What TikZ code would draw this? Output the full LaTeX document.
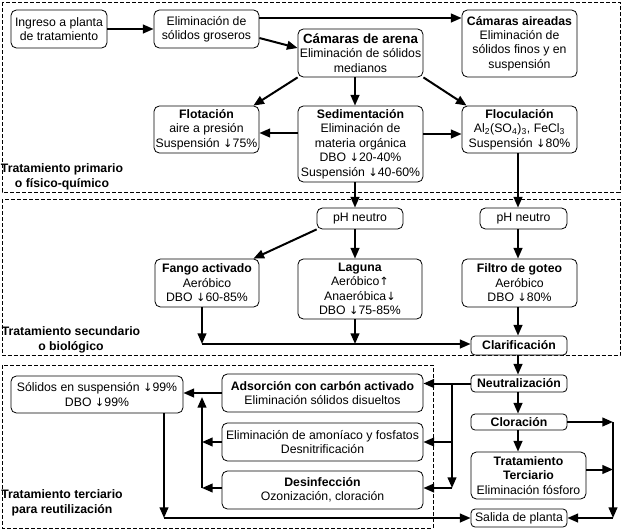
\documentclass[tikz,border=0pt]{standalone}
\usepackage{fontspec}
\setmainfont{Liberation Sans}
\newfontfamily\arrowfont{DejaVu Sans}
\newcommand{\dnar}{{\arrowfont\fontsize{8.5pt}{10pt}\selectfont ↓}}
\newcommand{\upar}{{\arrowfont\fontsize{8.5pt}{10pt}\selectfont ↑}}
\usetikzlibrary{arrows.meta}
\begin{document}
\begin{tikzpicture}[x=0.75pt,y=-0.75pt,
  every node/.style={font=\fontsize{9.2pt}{10.8pt}\selectfont},
  box/.style={draw, line width=0.6pt, rounded corners=4pt, fill=white, align=center, inner sep=1pt},
  region/.style={draw, line width=0.6pt, dash pattern=on 3pt off 1.5pt},
  arr/.style={line width=1.5pt, -{Triangle[length=8pt,width=6.5pt]}},
  lbl/.style={font=\fontsize{9.2pt}{10.8pt}\selectfont\bfseries, align=center, inner sep=0pt},
]
\useasboundingbox (0,0) rectangle (621,529);
\fill[white] (0,0) rectangle (621,529);
% regions
\draw[region] (2,2) rectangle (620,192);
\draw[region] (2,199) rectangle (620,355.5);
\draw[region] (2,365) rectangle (433,528);
\node[lbl] (lblA) at (62,177) {Tratamiento primario\\o físico-químico};
\node[lbl] (lblB) at (71,340) {Tratamiento secundario\\o biológico};
\node[lbl] (lblC) at (62,503) {Tratamiento terciario\\para reutilización};
% primary
\node[box, minimum width=72pt, minimum height=28.5pt] (ingreso) at (59,29) {Ingreso a planta\\de tratamiento};
\node[box, minimum width=78.75pt, minimum height=28.5pt] (groseros) at (206.5,29) {Eliminación de\\sólidos groseros};
\node[box, minimum width=93.75pt, minimum height=36pt] (arena) at (360.5,53) {{\fontsize{10pt}{12pt}\selectfont\bfseries Cámaras de arena}\\Eliminación de sólidos\\medianos};
\node[box, minimum width=86.25pt, minimum height=50.25pt] (aireadas) at (519.5,43.5) {\textbf{Cámaras aireadas}\\Eliminación de\\sólidos finos y en\\suspensión};
\node[box, minimum width=78.75pt, minimum height=35.25pt] (flot) at (206.5,129.5) {\textbf{Flotación}\\aire a presión\\Suspensión \dnar75\%};
\node[box, minimum width=93.75pt, minimum height=57pt] (sedim) at (360.5,144) {\textbf{Sedimentación}\\Eliminación de\\materia orgánica\\DBO \dnar20-40\%\\Suspensión \dnar40-60\%};
\node[box, minimum width=86.25pt, minimum height=35.25pt] (floc) at (519.5,129.5) {\textbf{Floculación}\\Al\textsubscript{2}(SO\textsubscript{4})\textsubscript{3}, FeCl\textsubscript{3}\\Suspensión \dnar80\%};
% secondary
\node[box, minimum width=64.5pt, minimum height=15.75pt] (phA) at (360,218.5) {pH neutro};
\node[box, minimum width=65.25pt, minimum height=15.75pt] (phB) at (523.5,218.5) {pH neutro};
\node[box, minimum width=78pt, minimum height=36pt] (fango) at (207,283) {\textbf{Fango activado}\\Aeróbico\\DBO \dnar60-85\%};
\node[box, minimum width=93pt, minimum height=45pt] (laguna) at (360,289) {\textbf{Laguna}\\Aeróbico\upar\\Anaeróbica\dnar\\DBO \dnar75-85\%};
\node[box, minimum width=86.25pt, minimum height=36pt] (filtro) at (519.5,283) {\textbf{Filtro de goteo}\\Aeróbico\\DBO \dnar80\%};
\node[box, rounded corners=3pt, minimum width=72pt, minimum height=14.25pt] (clarif) at (519,345.5) {\textbf{Clarificación}};
% tertiary
\node[box, rounded corners=3pt, minimum width=72pt, minimum height=12.75pt] (neutral) at (519,383.5) {\textbf{Neutralización}};
\node[box, rounded corners=3pt, minimum width=72pt, minimum height=12pt] (clora) at (519,422) {\textbf{Cloración}};
\node[box, minimum width=86.25pt, minimum height=35.25pt] (terc) at (528.5,475.5) {\textbf{Tratamiento}\\\textbf{Terciario}\\Eliminación fósforo};
\node[box, rounded corners=3pt, minimum width=72pt, minimum height=13.5pt] (salida) at (519,518) {Salida de planta};
\node[box, minimum width=150.75pt, minimum height=28.5pt] (adsor) at (322.5,393) {\textbf{Adsorción con carbón activado}\\Eliminación sólidos disueltos};
\node[box, minimum width=150.75pt, minimum height=28.5pt] (amon) at (322.5,442) {Eliminación de amoníaco y fosfatos\\Desnitrificación};
\node[box, minimum width=150.75pt, minimum height=28.5pt] (desinf) at (322.5,490) {\textbf{Desinfección}\\Ozonización, cloración};
\node[box, minimum width=129pt, minimum height=27.75pt] (solidos) at (97,394.5) {Sólidos en suspensión \dnar99\%\\DBO \dnar99\%};
% helper coordinates
\coordinate (xa) at (355,0);
\coordinate (xb) at (518,0);
\coordinate (xc) at (452,0);
\coordinate (xd) at (202,0);
\coordinate (xe) at (613,0);
\coordinate (j1) at (202,344);
\coordinate (j2) at (452,488);
\coordinate (j3) at (202,397);
\coordinate (j4) at (164,518);
% primary arrows
\draw[arr] (ingreso.east) -- (groseros.west);
\draw[arr] ([yshift=8.25pt]groseros.east) -- ([yshift=8.25pt]groseros.east -| aireadas.west);
\draw[arr] ([yshift=-6.75pt]groseros.east) -- ([yshift=3.75pt]arena.west);
\draw[arr] (arena.south west) -- ([xshift=-4.5pt]flot.north east);
\draw[arr] (arena.south -| xa) -- (sedim.north -| xa);
\draw[arr] (arena.south east) -- ([xshift=3.75pt]floc.north west);
\draw[arr] ([yshift=8.25pt]sedim.west) -- ([yshift=8.25pt]sedim.west -| flot.east);
\draw[arr] ([yshift=7.5pt]sedim.east) -- ([yshift=7.5pt]sedim.east -| floc.west);
\draw[arr] (sedim.south -| xa) -- (phA.north -| xa);
\draw[arr] (floc.south -| xb) -- (phB.north -| xb);
% secondary arrows
\draw[arr] (phA.south west) -- ([xshift=-4.5pt]fango.north east);
\draw[arr] (phA.south -| xa) -- (laguna.north -| xa);
\draw[arr] (phB.south -| xb) -- (filtro.north -| xb);
\draw[arr] (fango.south -| j1) -- (j1);
\draw[arr] (laguna.south -| xa) -- (xa |- j1);
\draw[arr] (j1) -- (j1 -| clarif.west);
\draw[arr] (filtro.south -| xb) -- (clarif.north -| xb);
\draw[arr] (clarif.south -| xb) -- (neutral.north -| xb);
% tertiary arrows
\draw[arr] (neutral.west) -- (neutral.west -| adsor.east);
\draw[arr] (neutral.west -| xc) -- (j2);
\draw[arr] (j2) -- (j2 -| desinf.east);
\draw[arr] (amon.east -| xc) -- (amon.east);
\draw[arr] (adsor.west) -- (adsor.west -| solidos.east);
\draw[arr] (j2 -| xd) -- (j3);
\draw[arr] (amon.west) -- (amon.west -| xd);
\draw[arr] (j2 -| desinf.west) -- (j2 -| xd);
\draw[arr] (solidos.south -| j4) -- (j4);
\draw[arr] (j4) -- (salida.west);
\draw[arr] (neutral.south -| xb) -- (clora.north -| xb);
\draw[arr] (clora.south -| xb) -- (terc.north -| xb);
\draw[arr] (clora.east) -- (clora.east -| xe);
\draw[arr] (clora.east -| xe) -- (xe |- salida.east);
\draw[arr] (xe |- salida.east) -- (salida.east);
\draw[arr] ([yshift=4.5pt]terc.east) -- ([yshift=4.5pt]terc.east -| xe);
\end{tikzpicture}
\end{document}
